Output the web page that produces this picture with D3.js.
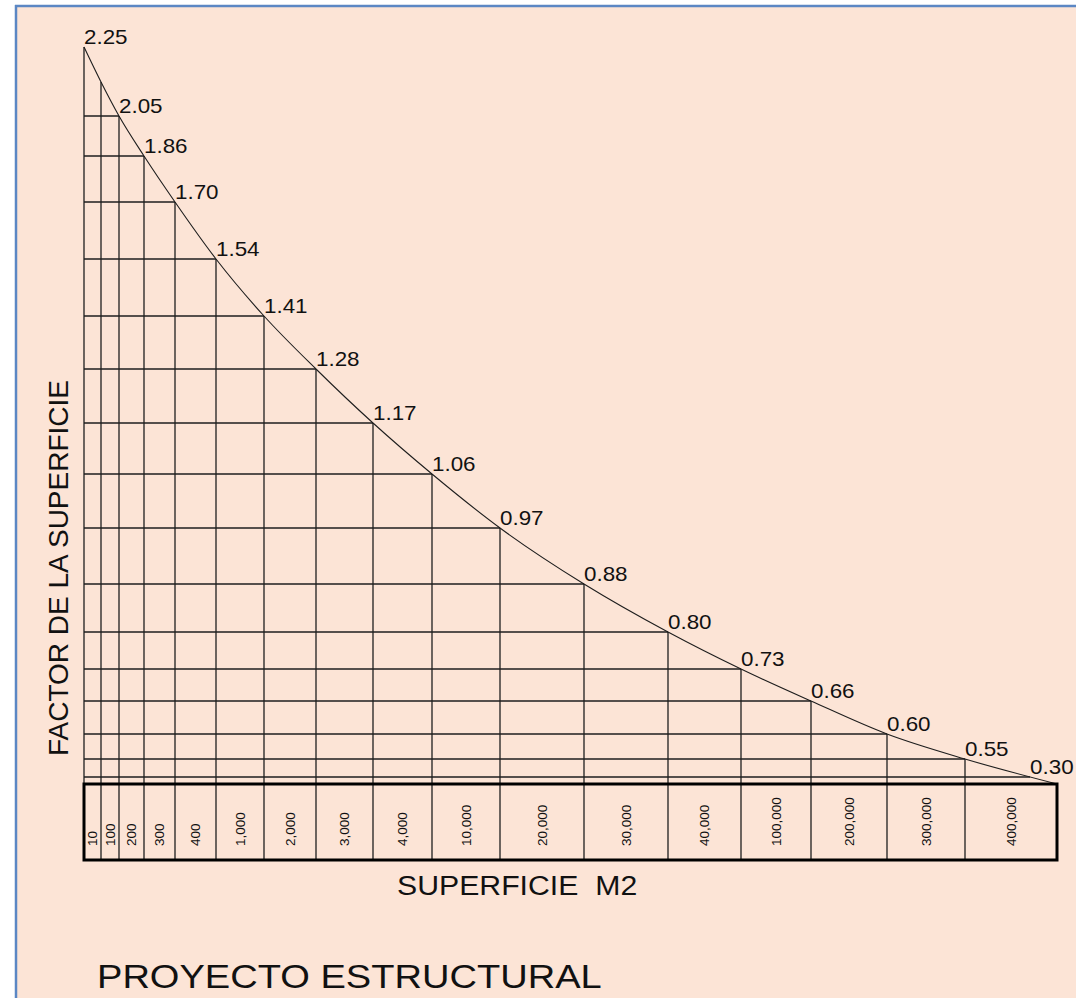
<!DOCTYPE html>
<html>
<head>
<meta charset="utf-8">
<script src="https://cdn.jsdelivr.net/npm/d3@7"></script>
<style>
  html, body { margin: 0; padding: 0; background: #ffffff; }
  svg { display: block; font-family: "Liberation Sans", Arial, sans-serif; }
  .pre { white-space: pre; }
</style>
</head>
<body>
<svg id="chart" width="1076" height="998"></svg>
<script>
// Surface ranges (m2) written in the cells of the bottom strip
const areaLabels = ["10", "100", "200", "300", "400", "1,000", "2,000", "3,000", "4,000",
  "10,000", "20,000", "30,000", "40,000", "100,000", "200,000", "300,000", "400,000"];

// Surface factor at each column boundary, left to right (last one is the end value)
const factorValues = [2.25, 2.15, 2.05, 1.86, 1.70, 1.54, 1.41, 1.28, 1.17, 1.06,
  0.97, 0.88, 0.80, 0.73, 0.66, 0.60, 0.55, 0.30];

// Factor levels drawn without a printed value
const unlabeledFactors = [2.15];

// Axis titles
const yTitle = "FACTOR DE LA SUPERFICIE";
const xTitle = "SUPERFICIE  M2";
const pageTitle = "PROYECTO ESTRUCTURAL";

// ---- layout of the nomogram grid (drawing units, px) ----
const plotLeft = 84, plotTop = 47;
const colWidths = [17, 18, 25, 31, 41, 48, 52, 57, 59, 68, 84, 84, 73, 70, 76, 78, 92];
const rowHeights = [35, 34, 40, 46, 57, 57, 53, 54, 51, 54, 56, 48, 37, 32, 33, 25, 18];
const baseGap = 7;      // from the lowest factor level to the top of the strip
const stripHeight = 76; // height of the labelled strip
const textStretch = 1.12;

const svg = d3.select("#chart");
const W = 1076, H = 998;

// page frame
svg.append("rect").attr("x", 0).attr("y", 0).attr("width", W).attr("height", H).attr("fill", "#ffffff");
svg.append("rect").attr("x", 16).attr("y", 6).attr("width", W - 16).attr("height", H - 6).attr("fill", "#fce4d6");
svg.append("line").attr("x1", 16).attr("x2", 16).attr("y1", 5).attr("y2", H)
  .attr("stroke", "#5b87c4").attr("stroke-width", 2.5);
svg.append("line").attr("x1", 15).attr("x2", W).attr("y1", 6).attr("y2", 6)
  .attr("stroke", "#5b87c4").attr("stroke-width", 2.5);

// scales: boundary index -> x, factor value -> y (piecewise)
const xStops = [plotLeft, ...Array.from(d3.cumsum(colWidths), d => plotLeft + d)];
const yStops = [plotTop, ...Array.from(d3.cumsum(rowHeights), d => plotTop + d)];
const x = d3.scaleLinear().domain(d3.range(xStops.length)).range(xStops);
const y = d3.scaleLinear().domain(factorValues).range(yStops);

const lastCol = areaLabels.length;               // index of right edge
const baseY = y(factorValues[factorValues.length - 1]) + baseGap;
const stripBottom = baseY + stripHeight;
const fmt = d3.format(".2f");

// points of the curve on the column boundaries (all but the final value)
const boundaryPts = factorValues.slice(0, lastCol).map((v, i) => ({ v, i, px: x(i), py: y(v) }));
const curvePts = boundaryPts.map(p => [p.px, p.py]).concat([[x(lastCol), baseY]]);

const g = svg.append("g");
const ink = "#1e1e1e";

// curve
const curvePath = g.append("path")
  .attr("d", d3.line().curve(d3.curveMonotoneX)(curvePts))
  .attr("fill", "none").attr("stroke", ink).attr("stroke-width", 1.1);

// where the curve reaches the final factor level
const endValue = factorValues[factorValues.length - 1];
const endY = y(endValue);
const node = curvePath.node();
const total = node.getTotalLength();
let lo = 0, hi = total;
for (let k = 0; k < 40; k++) {
  const mid = (lo + hi) / 2;
  if (node.getPointAtLength(mid).y < endY) lo = mid; else hi = mid;
}
const endX = node.getPointAtLength((lo + hi) / 2).x;

// vertical grid lines (left axis included)
g.selectAll(".vline").data(boundaryPts).join("line")
  .attr("class", "vline")
  .attr("x1", d => d.px).attr("x2", d => d.px)
  .attr("y1", d => d.py).attr("y2", stripBottom)
  .attr("stroke", ink).attr("stroke-width", 1.3);

// horizontal grid lines at each printed factor level
const hLevels = boundaryPts.filter(d => d.i >= 2).map(d => ({ v: d.v, xe: d.px }))
  .concat([{ v: endValue, xe: endX }]);
g.selectAll(".hline").data(hLevels).join("line")
  .attr("class", "hline")
  .attr("x1", plotLeft).attr("x2", d => d.xe)
  .attr("y1", d => y(d.v)).attr("y2", d => y(d.v))
  .attr("stroke", ink).attr("stroke-width", 1.3);

// strip with the surface ranges
g.append("rect")
  .attr("x", x(0)).attr("y", baseY)
  .attr("width", x(lastCol) - x(0)).attr("height", stripHeight)
  .attr("fill", "none").attr("stroke", "#000").attr("stroke-width", 3);

g.selectAll(".area-label").data(areaLabels).join("text")
  .attr("class", "area-label")
  .attr("transform", (d, i) => `translate(${(x(i) + x(i + 1)) / 2 + 4.5},${stripBottom - 14}) rotate(-90)`)
  .attr("font-size", 13.5).attr("fill", "#111")
  .text(d => d);

// factor values printed along the curve
const valueLabels = boundaryPts.filter(d => !unlabeledFactors.includes(d.v))
  .map(d => ({ v: d.v, px: d.px, py: d.py }))
  .concat([{ v: endValue, px: endX, py: endY }]);
g.selectAll(".val").data(valueLabels).join("text")
  .attr("class", "val")
  .attr("transform", d => `translate(${d.px},${d.py - 3}) scale(${textStretch},1)`)
  .attr("font-size", 20).attr("fill", "#111")
  .text(d => fmt(d.v));

// titles
svg.append("text")
  .attr("transform", `translate(68,568) rotate(-90)`)
  .attr("text-anchor", "middle").attr("font-size", 28).attr("fill", "#111")
  .text(yTitle);

svg.append("text").attr("class", "pre")
  .attr("transform", `translate(397,${stripBottom + 35}) scale(${textStretch},1)`)
  .attr("font-size", 27).attr("fill", "#111")
  .text(xTitle);

svg.append("text")
  .attr("transform", `translate(97,988) scale(${textStretch},1)`)
  .attr("font-size", 34).attr("fill", "#111")
  .text(pageTitle);
</script>
</body>
</html>
